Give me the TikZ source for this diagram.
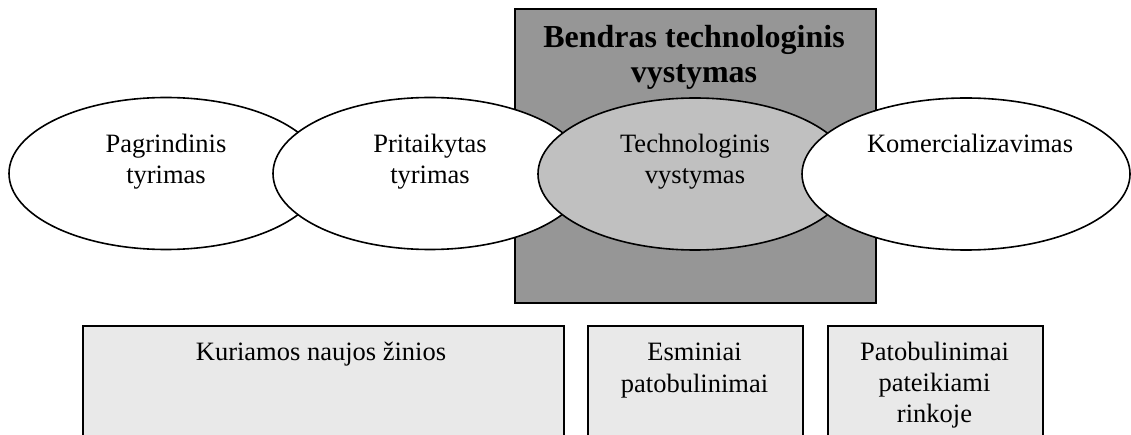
\documentclass[tikz,border=0pt]{standalone}
\usepackage{fontspec}
\setmainfont{Liberation Serif}
\usetikzlibrary{shapes.geometric}
\definecolor{bggray}{RGB}{150,150,150}
\definecolor{ellgray}{RGB}{192,192,192}
\definecolor{boxgray}{RGB}{233,233,233}
\tikzset{
  ell/.style={ellipse, draw=black, fill=white, line width=1.6pt, inner sep=0pt,
    minimum width=314pt, minimum height=152pt},
  lbl/.style={anchor=base, inner sep=0pt, font=\fontsize{26.5}{32}\selectfont},
  ttl/.style={anchor=base, inner sep=0pt, font=\fontsize{32}{35}\selectfont\bfseries},
  boxn/.style={draw=black, fill=boxgray, line width=1.6pt, anchor=north west,
    inner sep=0pt, minimum height=140pt},
}
\begin{document}
\begin{tikzpicture}[x=1pt,y=-1pt]
\useasboundingbox (0,0) rectangle (1131,435);
\clip (0,0) rectangle (1131,435);
\fill[white] (0,0) rectangle (1131,435);
% background rectangle
\node[draw=black, fill=bggray, line width=1.7pt, anchor=north west, inner sep=0pt,
  minimum width=361pt, minimum height=294pt] (bg) at (514,8) {};
\node[ttl] (t1) at (694,48) {Bendras technologinis};
\node[ttl] (t2) at (694,83) {vystymas};
% ellipses
\node[ell] (e1) at (166,173.5) {};
\node[ell] (e2) at (430,173.5) {};
\node[ell, fill=ellgray] (e3) at (695,174) {};
\node[ell, minimum width=328pt] (e4) at (966,174) {};
\node[lbl] (l1a) at (166,153) {Pagrindinis};
\node[lbl] (l1b) at (166,184) {tyrimas};
\node[lbl] (l2a) at (430,153) {Pritaikytas};
\node[lbl] (l2b) at (430,184) {tyrimas};
\node[lbl] (l3a) at (695,153) {Technologinis};
\node[lbl] (l3b) at (695,184) {vystymas};
\node[lbl] (l4a) at (970,153) {Komercializavimas};
% bottom boxes
\node[boxn, minimum width=481pt] (b1) at (82,325) {};
\node[boxn, minimum width=215pt] (b2) at (587,325) {};
\node[boxn, minimum width=215pt] (b3) at (827,325) {};
\node[lbl] (k1) at (321,360) {Kuriamos naujos žinios};
\node[lbl] (k2a) at (694.5,360) {Esminiai};
\node[lbl] (k2b) at (694.5,392) {patobulinimai};
\node[lbl] (k3a) at (934.5,360) {Patobulinimai};
\node[lbl] (k3b) at (934.5,391) {pateikiami};
\node[lbl] (k3c) at (934.5,422) {rinkoje};
\end{tikzpicture}
\end{document}
